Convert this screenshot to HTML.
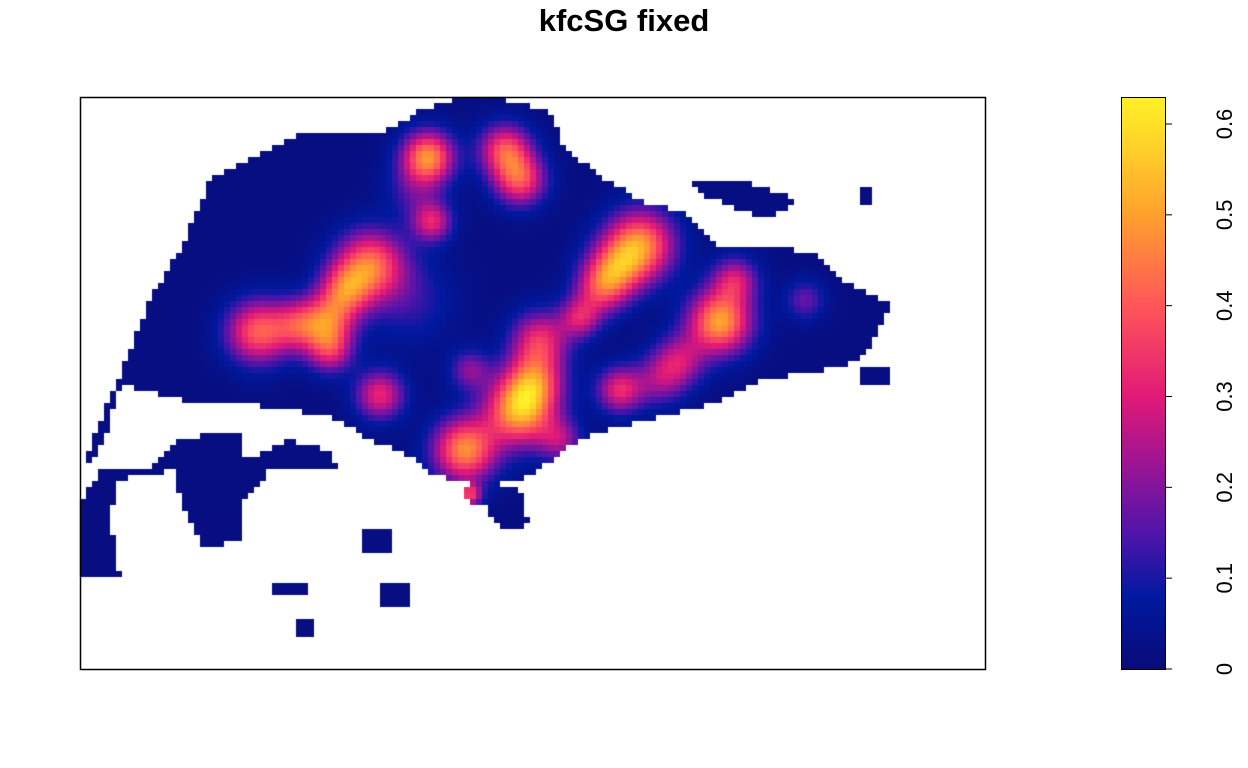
<!DOCTYPE html>
<html><head><meta charset="utf-8"><style>
body{margin:0;background:#fff;width:1248px;height:768px;overflow:hidden;font-family:"Liberation Sans",sans-serif}
#t{position:absolute;left:0;width:1248px;top:3px;text-align:center;font-weight:bold;font-size:31px}
canvas{position:absolute;left:0;top:0}
</style></head><body>
<div id="t">kfcSG fixed</div>
<canvas id="c" width="1248" height="768"></canvas>
<svg width="1248" height="768" style="position:absolute;left:0;top:0">
<rect x="80.5" y="97.5" width="905" height="572" fill="none" stroke="#000" stroke-width="1.5"/>
<g id="cb"></g>
</svg>
<script>
// hotspots: x, y (px), peak value, spread
const hx=[428,505,520,432,370,345,330,258,300,330,380,520,465,540,535,580,640,615,720,735,620,805,470,600,680,470,560,660,415,410];
const hy=[157,150,180,222,265,290,320,332,325,350,395,410,450,340,380,318,245,270,322,280,390,300,495,290,360,370,440,380,190,300];
const hv=[0.45,0.35,0.35,0.28,0.4,0.3,0.3,0.38,0.28,0.28,0.3,0.5,0.45,0.3,0.3,0.25,0.45,0.3,0.48,0.25,0.3,0.15,0.3,0.25,0.22,0.18,0.2,0.18,0.12,0.1];
const hs=[18,18,18,14,24,18,18,22,18,16,17,24,22,20,20,14,24,20,22,16,16,14,8,18,18,14,15,18,20,30];
const ticks=[0,0.1,0.2,0.3,0.4,0.5,0.6];
const vmax=0.63;
const land=[[150,300],[185,240],[210,180],[265,150],[300,135],[380,135],[420,110],[460,97],[490,97],[550,110],[565,150],[600,175],[640,200],[690,215],[720,250],[770,245],[820,255],[850,285],[890,305],[880,330],[860,360],[820,372],[760,380],[710,405],[650,420],[600,432],[570,445],[550,462],[520,480],[480,488],[430,472],[400,450],[370,440],[340,420],[300,412],[250,405],[200,405],[150,392],[120,385],[105,440],[90,470],[150,470],[175,440],[245,430],[245,460],[290,440],[330,450],[340,470],[270,470],[245,500],[240,540],[205,550],[180,500],[175,470],[120,480],[110,520],[120,575],[80,575],[80,505],[100,470],[85,460]];
const isl=[[[690,180],[740,180],[800,200],[770,220],[700,195]],[[465,490],[520,490],[530,525],[500,530],[485,505],[465,500]],[[360,530],[395,530],[395,555],[365,555]],[[275,585],[310,585],[310,598],[275,598]],[[380,585],[412,585],[412,605],[380,605]],[[295,620],[315,620],[315,637],[295,637]],[[858,186],[870,186],[870,204],[858,204]],[[860,370],[888,370],[888,385],[860,385]]];
const stops=[[0,[10,10,120]],[0.08,[0,25,160]],[0.15,[80,20,170]],[0.22,[150,20,150]],[0.3,[225,25,120]],[0.4,[255,85,90]],[0.5,[255,160,45]],[0.6,[255,225,40]],[0.63,[255,240,40]]];
function col(v){v=Math.max(0,Math.min(vmax,v));for(let i=1;i<stops.length;i++){if(v<=stops[i][0]){const a=stops[i-1],b=stops[i],t=(v-a[0])/(b[0]-a[0]);return 'rgb('+a[1].map((c,k)=>Math.round(c+(b[1][k]-c)*t)).join(',')+')';}}return 'rgb(255,240,40)';}
function inPoly(x,y,p){let r=false;for(let i=0,j=p.length-1;i<p.length;j=i++){const[xi,yi]=p[i],[xj,yj]=p[j];if((yi>y)!=(yj>y)&&x<(xj-xi)*(y-yi)/(yj-yi)+xi)r=!r;}return r;}
const ctx=document.getElementById('c').getContext('2d');
const cs=6;
for(let y=97;y<669;y+=cs)for(let x=80;x<985;x+=cs){
 const cx=x+cs/2,cy=y+cs/2;
 if(!(inPoly(cx,cy,land)||isl.some(p=>inPoly(cx,cy,p))))continue;
 let v=0.02;for(let i=0;i<hx.length;i++){const d=((cx-hx[i])**2+(cy-hy[i])**2)/(2*hs[i]*hs[i]);v+=hv[i]*Math.exp(-d);}
 ctx.fillStyle=col(v);ctx.fillRect(x,y,cs,cs);}
const g=document.getElementById('cb');
const y0=669,y1=97,sc=(y0-124)/0.6;
for(let y=y1;y<y0;y++){const v=(y0-y)/(y0-y1)*vmax;const r=document.createElementNS('http://www.w3.org/2000/svg','rect');


r.setAttribute('x',1121);r.setAttribute('y',y);r.setAttribute('width',44);r.setAttribute('height',1.2);r.setAttribute('fill',col(v));g.appendChild(r);}
let s='<rect x="1121.5" y="97.5" width="44" height="572" fill="none" stroke="#000"/>';
ticks.forEach(t=>{const y=y0-t*sc;s+=`<line x1="1165" x2="1172" y1="${y}" y2="${y}" stroke="#000"/><text x="1232" y="${y}" font-size="22" text-anchor="middle" transform="rotate(-90 1232 ${y})">${t}</text>`;});
g.insertAdjacentHTML('beforeend',s);
</script>
</body></html>
